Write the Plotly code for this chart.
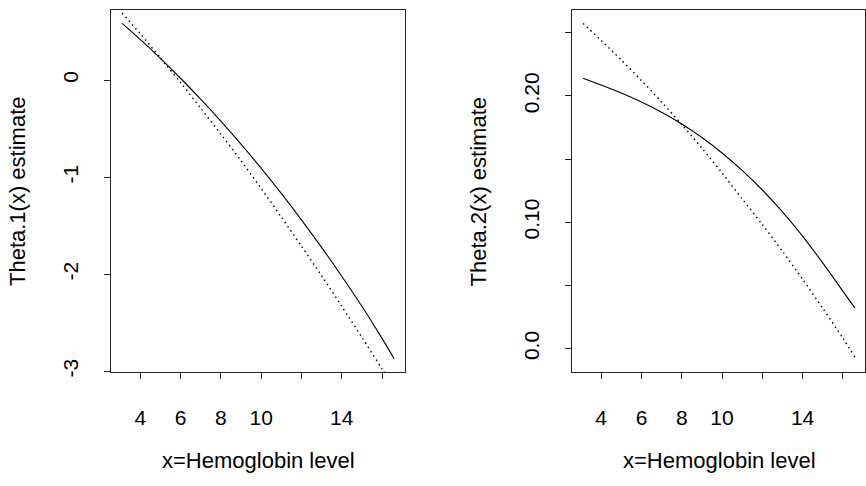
import plotly.graph_objects as go

# Data
x_grid = [3.1, 4, 5, 6, 7, 8, 9, 10, 11, 12, 13, 14, 15, 16, 16.6]

theta1_fit = [0.585, 0.419, 0.224, 0.019, -0.196, -0.422, -0.659, -0.907, -1.167, -1.439, -1.723, -2.02, -2.33, -2.66, -2.87]
theta1_ref = [0.69, 0.478, 0.229, -0.026, -0.289, -0.556, -0.83, -1.115, -1.41, -1.71, -2.015, -2.33, -2.65, -2.975, -3.175]

theta2_fit = [0.214, 0.2086, 0.2022, 0.1951, 0.187, 0.1777, 0.167, 0.1548, 0.141, 0.1255, 0.1082, 0.089, 0.0678, 0.0455, 0.032]
theta2_ref = [0.2573, 0.2438, 0.2283, 0.2121, 0.1951, 0.1773, 0.1586, 0.139, 0.1185, 0.0982, 0.077, 0.0549, 0.032, 0.0083, -0.0068]

x_ticks = [4, 6, 8, 10, 12, 14, 16]
x_ticklabels = ["4", "6", "8", "10", "", "14", ""]
y1_ticks = [-3, -2, -1, 0]
y1_ticklabels = ["-3", "-2", "-1", "0"]
y2_ticks = [0.0, 0.05, 0.10, 0.15, 0.20, 0.25]
y2_ticklabels = ["0.0", "", "0.10", "", "0.20", ""]

x_title = "x=Hemoglobin level"
y1_title = "Theta.1(x) estimate"
y2_title = "Theta.2(x) estimate"

FONT = "Liberation Sans, Arial, Helvetica, sans-serif"
W, H = 866, 486

solid = dict(color="black", width=1.1, shape="spline", smoothing=0.8)
dotted = dict(color="black", width=1.4, dash="1.5px,3.5px", shape="spline", smoothing=0.8)

fig = go.Figure()
fig.add_trace(go.Scatter(x=x_grid, y=theta1_fit, mode="lines", xaxis="x", yaxis="y",
                         line=solid, showlegend=False))
fig.add_trace(go.Scatter(x=x_grid, y=theta1_ref, mode="lines", xaxis="x", yaxis="y",
                         line=dotted, showlegend=False))
fig.add_trace(go.Scatter(x=x_grid, y=theta2_fit, mode="lines", xaxis="x2", yaxis="y2",
                         line=solid, showlegend=False))
fig.add_trace(go.Scatter(x=x_grid, y=theta2_ref, mode="lines", xaxis="x2", yaxis="y2",
                         line=dotted, showlegend=False))

ydom = [(H - 376) / H, (H - 10) / H]

common_axis = dict(showgrid=False, zeroline=False, showline=True, mirror=True,
                   linecolor="#222", linewidth=1, ticks="outside", ticklen=6,
                   tickwidth=1, tickcolor="#222",
                   tickfont=dict(family=FONT, size=21, color="black"))

fig.update_layout(
    width=W, height=H,
    margin=dict(l=0, r=0, t=0, b=0),
    paper_bgcolor="white", plot_bgcolor="white",
    xaxis=dict(domain=[111 / W, 405 / W], range=[2.55, 17.14], anchor="y",
               tickvals=x_ticks, ticktext=x_ticklabels, ticklabelstandoff=21, **common_axis),
    yaxis=dict(domain=ydom, range=[-3.008, 0.723], anchor="x",
               tickvals=y1_ticks, ticktext=y1_ticklabels, tickangle=-90,
               ticklabelstandoff=18, **common_axis),
    xaxis2=dict(domain=[572 / W, 865 / W], range=[2.55, 17.1], anchor="y2",
                tickvals=x_ticks, ticktext=x_ticklabels, ticklabelstandoff=21, **common_axis),
    yaxis2=dict(domain=ydom, range=[-0.0186, 0.268], anchor="x2",
                tickvals=y2_ticks, ticktext=y2_ticklabels, tickangle=-90,
                ticklabelstandoff=18, **common_axis),
    annotations=[
        dict(text=x_title, x=258 / W, y=(H - 465) / H, xref="paper", yref="paper",
             showarrow=False, xanchor="center", yanchor="middle",
             font=dict(family=FONT, size=22, color="black")),
        dict(text=x_title, x=719 / W, y=(H - 465) / H, xref="paper", yref="paper",
             showarrow=False, xanchor="center", yanchor="middle",
             font=dict(family=FONT, size=22, color="black")),
        dict(text=y1_title, x=17 / W, y=(H - 193) / H, xref="paper", yref="paper",
             showarrow=False, xanchor="center", yanchor="middle", textangle=-90,
             font=dict(family=FONT, size=22, color="black")),
        dict(text=y2_title, x=478.5 / W, y=(H - 193) / H, xref="paper", yref="paper",
             showarrow=False, xanchor="center", yanchor="middle", textangle=-90,
             font=dict(family=FONT, size=22, color="black")),
    ],
)

fig.write_html("out.html")
